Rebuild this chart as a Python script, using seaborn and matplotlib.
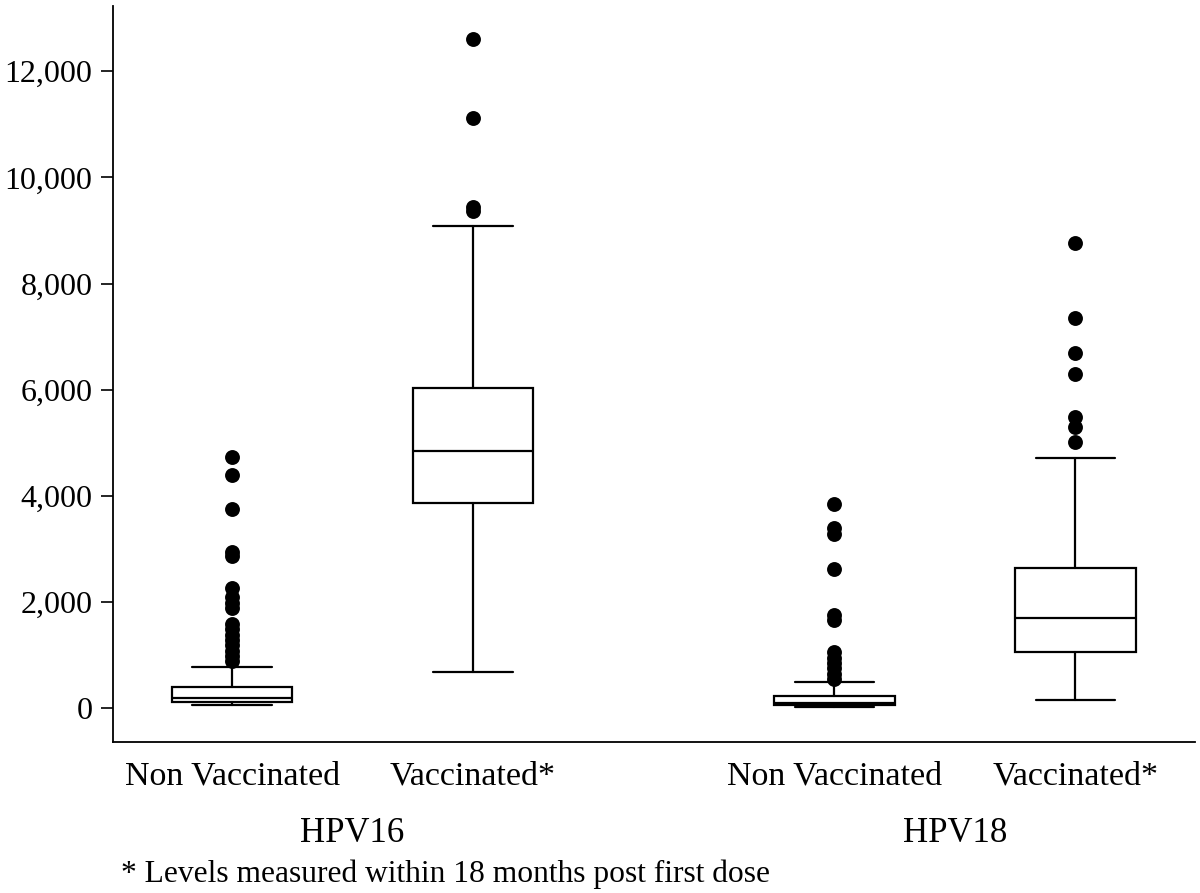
import matplotlib
matplotlib.use("Agg")
import matplotlib.pyplot as plt
import matplotlib.ticker as mticker
import matplotlib.transforms as mtransforms
import pandas as pd
import seaborn as sns

# Box summary values (antibody levels)
labels = ["Non Vaccinated", "Vaccinated*", "Non Vaccinated", "Vaccinated*"]
positions = [0, 1, 2.5, 3.5]
whislo = [51, 670, 20, 151]
q1 = [119, 3855, 50, 1049]
med = [194, 4842, 90, 1689]
q3 = [401, 6030, 226, 2637]
whishi = [767, 9090, 490, 4710]

# Outliers per box
fliers_hpv16_nv = [4730, 4390, 3760, 2940, 2860, 2270, 2100, 1970, 1880,
                   1580, 1480, 1380, 1280, 1180, 1080, 980, 890]
fliers_hpv16_v = [12600, 11114, 9450, 9370]
fliers_hpv18_nv = [3840, 3390, 3280, 2620, 1750, 1650,
                   1050, 950, 850, 750, 650, 550]
fliers_hpv18_v = [8755, 7353, 6694, 6292, 5476, 5300, 5017]
fliers = [fliers_hpv16_nv, fliers_hpv16_v, fliers_hpv18_nv, fliers_hpv18_v]

groups = ["HPV16", "HPV18"]
group_pos = [0.5, 3.0]
footnote = "* Levels measured within 18 months post first dose"

sns.set_style("ticks")
plt.rcParams["font.family"] = ["Liberation Serif", "DejaVu Serif"]

fig = plt.figure(figsize=(12, 8.93), dpi=100)
ax = fig.add_axes([0.0942, 0.1694, 0.9016, 0.8239])

stats = []
for i in range(len(labels)):
    stats.append({"whislo": whislo[i], "q1": q1[i], "med": med[i],
                  "q3": q3[i], "whishi": whishi[i], "fliers": []})

line = dict(color="black", linewidth=1.6)
ax.bxp(stats, positions=positions, widths=0.5, capwidths=0.33,
       showfliers=False, patch_artist=True,
       boxprops=dict(facecolor="white", edgecolor="black", linewidth=1.6),
       medianprops=line, whiskerprops=line, capprops=line)

flier_df = pd.DataFrame({
    "x": [positions[i] for i in range(len(fliers)) for _ in fliers[i]],
    "y": [v for f in fliers for v in f],
})
sns.scatterplot(data=flier_df, x="x", y="y", ax=ax, color="black",
                s=115, linewidth=0, zorder=3, legend=False)

ax.set_xlim(-0.494, 3.996)
ax.set_ylim(-635, 13230)
ax.set_yticks(range(0, 12001, 2000))
ax.yaxis.set_major_formatter(mticker.StrMethodFormatter("{x:,.0f}"))
ax.set_xticks(positions)
ax.set_xticklabels(labels)
ax.tick_params(axis="y", length=8.3, width=1.2, pad=6.5, labelsize=23,
               color="black", labelcolor="black")
ax.tick_params(axis="x", length=0, pad=14, labelsize=24.5, labelcolor="black")
ax.set_xlabel("")
ax.set_ylabel("")

for side in ["top", "right"]:
    ax.spines[side].set_visible(False)
for side in ["left", "bottom"]:
    ax.spines[side].set_color("black")
    ax.spines[side].set_linewidth(1.3)

trans = mtransforms.blended_transform_factory(ax.transData, fig.transFigure)
for name, xp in zip(groups, group_pos):
    ax.text(xp, 1 - 842 / 893, name, transform=trans, ha="center",
            va="baseline", fontsize=25, color="black")

fig.text(121 / 1200, 1 - 882 / 893, footnote, ha="left", va="baseline",
         fontsize=22.7, color="black")

fig.savefig("out.png", dpi=100)
